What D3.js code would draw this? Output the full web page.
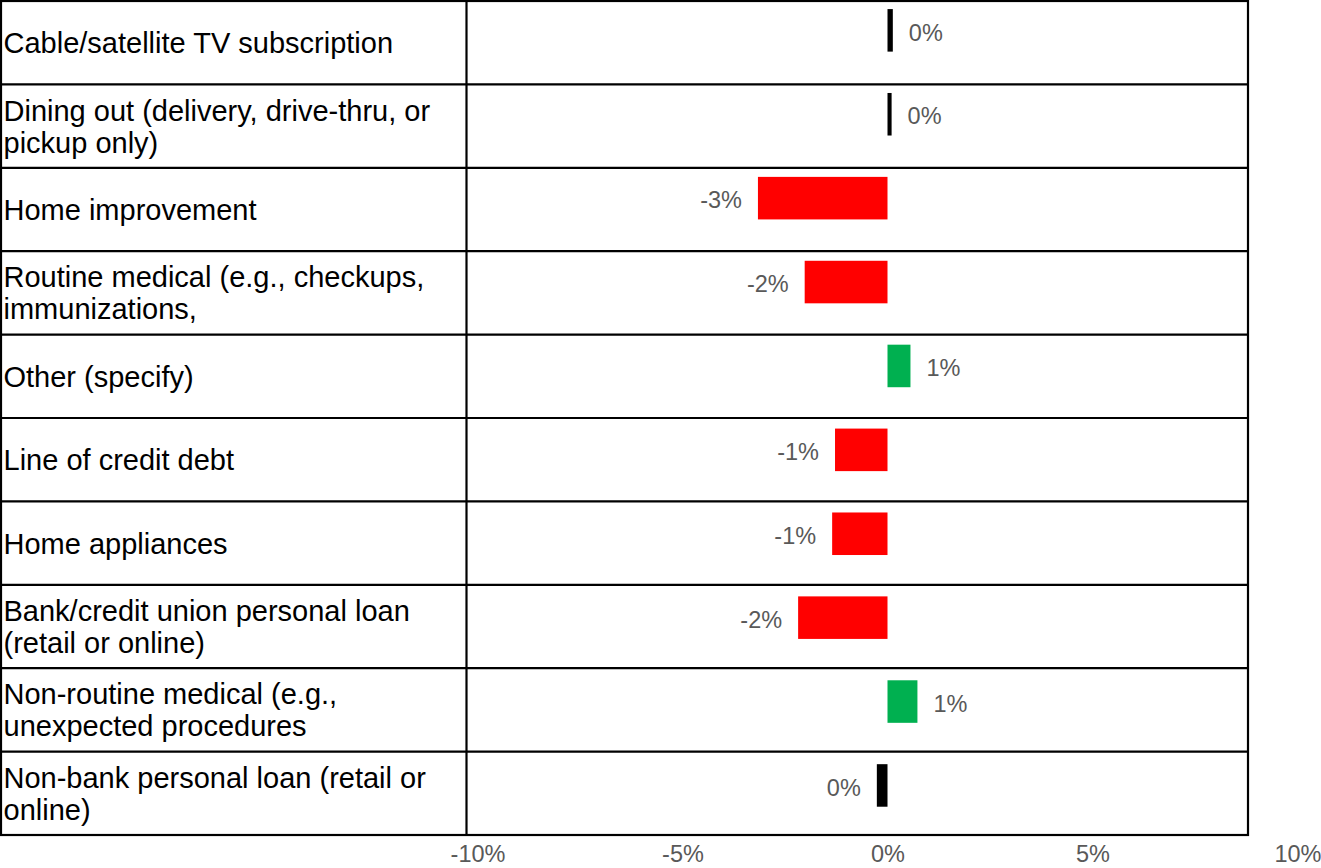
<!DOCTYPE html>
<html>
<head>
<meta charset="utf-8">
<script src="https://cdn.jsdelivr.net/npm/d3@7"></script>
<style>
  html, body { margin: 0; padding: 0; background: #fff; }
  svg { display: block; }
  text { font-family: "Liberation Sans", Arial, Helvetica, sans-serif; }
</style>
</head>
<body>
<svg id="chart" width="1321" height="868"></svg>
<script>
// Change in spending by category (percentage points)
const categories = [
  "Cable/satellite TV subscription",
  "Dining out (delivery, drive-thru, or pickup only)",
  "Home improvement",
  "Routine medical (e.g., checkups, immunizations,",
  "Other (specify)",
  "Line of credit debt",
  "Home appliances",
  "Bank/credit union personal loan (retail or online)",
  "Non-routine medical (e.g., unexpected procedures",
  "Non-bank personal loan (retail or online)"
];
const values = [0.13, 0.10, -3.16, -2.02, 0.56, -1.28, -1.35, -2.18, 0.73, -0.26];
const tickValues = [-10, -5, 0, 5, 10];
const tickLabels = ["-10%", "-5%", "0%", "5%", "10%"];

const colors = { neg: "#FF0000", pos: "#00B050", zero: "#000000" };

const svg = d3.select("#chart");

// table frame
const tableLeft = 1, tableRight = 1248, labelColRight = 466.5;
const tableTop = 1, tableBottom = 835;

const rowScale = d3.scaleBand()
  .domain(categories)
  .range([tableTop, tableBottom]);

const barScale = d3.scaleBand()
  .domain(categories)
  .range([-11.6, 827.4])
  .paddingInner(0.493)
  .paddingOuter(0.2465);

const x = d3.scaleLinear()
  .domain([-10, 10])
  .range([477.5, 1297.5]);

const fmt = d3.formatLocale({
  decimal: ".", thousands: ",", grouping: [3], currency: ["", ""], minus: "-"
}).format(".0%");

// grid lines
const grid = svg.append("g").attr("stroke", "#000").attr("stroke-width", 2.2);
grid.selectAll("line.row")
  .data(categories.slice(1))
  .join("line")
  .attr("class", "row")
  .attr("x1", tableLeft).attr("x2", tableRight)
  .attr("y1", d => rowScale(d)).attr("y2", d => rowScale(d));
grid.append("line")
  .attr("x1", labelColRight).attr("x2", labelColRight)
  .attr("y1", tableTop).attr("y2", tableBottom);
grid.append("rect")
  .attr("x", tableLeft).attr("y", tableTop)
  .attr("width", tableRight - tableLeft)
  .attr("height", tableBottom - tableTop)
  .attr("fill", "none");

// category labels, wrapped to the label column
const labelFont = 29;
const lineHeight = 32;
const maxLabelWidth = labelColRight - 8;

const labels = svg.append("g")
  .attr("font-size", labelFont)
  .attr("fill", "#000");

categories.forEach(cat => {
  const t = labels.append("text").attr("x", 3.5);
  const words = cat.split(/\s+/);
  const lines = [];
  let line = [];
  const probe = t.append("tspan");
  words.forEach(w => {
    line.push(w);
    probe.text(line.join(" "));
    if (probe.node().getComputedTextLength() > maxLabelWidth && line.length > 1) {
      line.pop();
      lines.push(line.join(" "));
      line = [w];
    }
  });
  lines.push(line.join(" "));
  probe.remove();
  const cy = rowScale(cat) + rowScale.bandwidth() / 2;
  const firstBaseline = cy - (lines.length - 1) * lineHeight / 2 + labelFont * 0.36;
  lines.forEach((l, i) => {
    t.append("tspan")
      .attr("x", 3.5)
      .attr("y", firstBaseline + i * lineHeight)
      .text(l);
  });
});

// bars
const rows = categories.map((c, i) => ({ c, v: values[i], r: Math.round(values[i]) }));

svg.append("g")
  .selectAll("rect")
  .data(rows)
  .join("rect")
  .attr("x", d => Math.min(x(0), x(d.v)))
  .attr("width", d => Math.abs(x(d.v) - x(0)))
  .attr("y", d => barScale(d.c))
  .attr("height", barScale.bandwidth())
  .attr("fill", d => d.r < 0 ? colors.neg : d.r > 0 ? colors.pos : colors.zero);

// value labels
svg.append("g")
  .attr("font-size", 23.5)
  .attr("fill", "#595959")
  .selectAll("text")
  .data(rows)
  .join("text")
  .attr("x", d => d.v < 0 ? x(d.v) - 16 : x(d.v) + 16)
  .attr("y", d => barScale(d.c) + barScale.bandwidth() / 2 + 2)
  .attr("dy", "0.35em")
  .attr("text-anchor", d => d.v < 0 ? "end" : "start")
  .text(d => fmt(d.v / 100));

// x axis
const axis = d3.axisBottom(x)
  .tickValues(tickValues)
  .tickFormat((d, i) => tickLabels[i])
  .tickSize(0)
  .tickPadding(0);

const ax = svg.append("g")
  .attr("transform", `translate(0, ${tableBottom + 19})`)
  .call(axis);
ax.select(".domain").remove();
ax.selectAll("text")
  .attr("font-size", 23.5)
  .attr("font-family", "\"Liberation Sans\", Arial, Helvetica, sans-serif")
  .attr("fill", "#595959")
  .attr("dy", "0.35em");
</script>
</body>
</html>
